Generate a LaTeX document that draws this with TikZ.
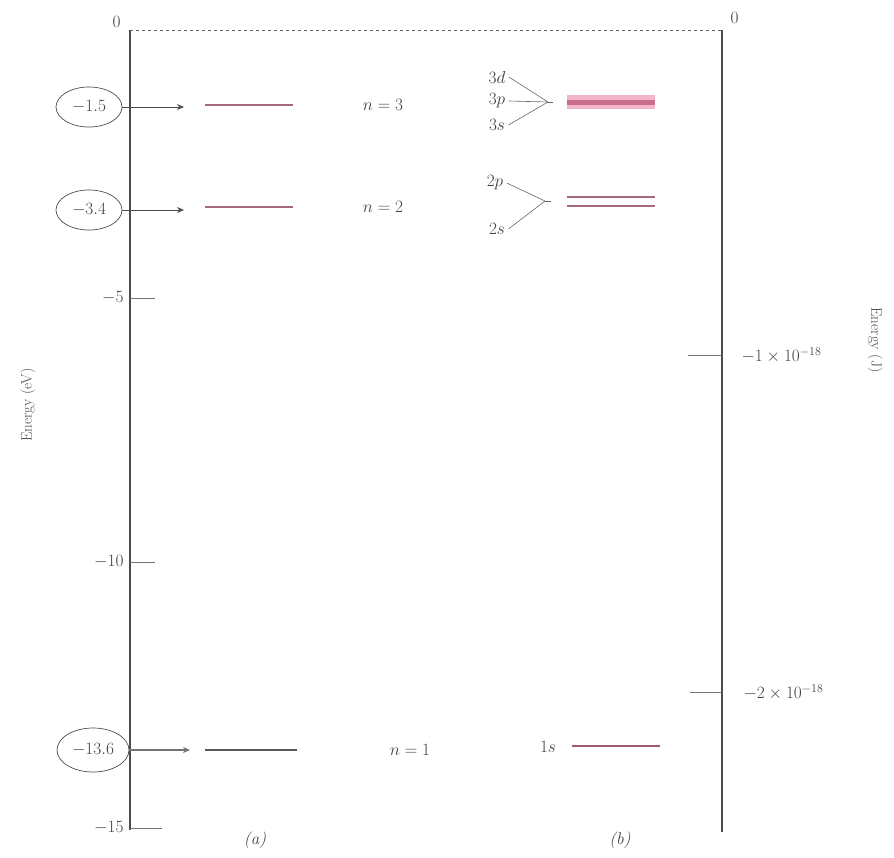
\documentclass[tikz,border=0pt]{standalone}
\usepackage{amsmath,amssymb}
\usepackage{tikz}
\usetikzlibrary{shapes.geometric,arrows.meta}

\definecolor{levelpink}{RGB}{200,110,140}
\definecolor{bandpink}{RGB}{242,182,202}
\definecolor{mauve}{RGB}{165,105,125}

\begin{document}
\begin{tikzpicture}[x=1pt,y=-1pt,
    axis/.style={draw=black!70, line width=1.1pt},
    tickmark/.style={draw=black!55, line width=0.8pt},
    levelline/.style={line width=1.8pt},
    ring/.style={ellipse, draw=black!70, line width=0.7pt, inner sep=0pt, minimum width=66pt, minimum height=40pt},
    pointer/.style={draw=black!70, line width=1pt, -{Stealth[length=7pt,width=6pt]}},
    fork/.style={draw=black!60, line width=0.6pt},
    lab/.style={font=\fontsize{17}{20}\selectfont, text=black!75},
    sidelab/.style={font=\fontsize{15}{18}\selectfont, text=black!70}]
    \useasboundingbox (0,0) rectangle (894,857);

    % axes
    \draw[axis] (130,30) -- (130,830);
    \draw[axis] (722,30) -- (722,832);
    \draw[dashed, black!60, line width=0.8pt] (130,30) -- (722,30);

    % left scale
    \node[lab, anchor=east] (z0) at (124,22) {$0$};
    \draw[tickmark] (130,298) -- (155,298);
    \node[lab, anchor=east] (t5) at (127,298) {$-5$};
    \draw[tickmark] (130,562) -- (155,562);
    \node[lab, anchor=east] (t10) at (127,562) {$-10$};
    \draw[tickmark] (130,828) -- (162,828);
    \node[lab, anchor=east] (t15) at (127,828) {$-15$};
    \node[sidelab, rotate=90] (eev) at (28,405) {Energy (eV)};

    % right scale
    \node[lab, anchor=west] (z1) at (727,18) {$0$};
    \draw[tickmark] (688,355) -- (722,355);
    \node[lab, anchor=west] (j1) at (738,355) {$-1\times10^{-18}$};
    \draw[tickmark] (690,692) -- (722,692);
    \node[lab, anchor=west] (j2) at (740,692) {$-2\times10^{-18}$};
    \node[sidelab, rotate=-90] (ej) at (875,340) {Energy (J)};

    % circled values
    \node[ring, lab] (c1) at (89,107) {$-1.5$};
    \node[ring, lab] (c2) at (89,210) {$-3.4$};
    \node[ring, lab, minimum width=72pt, minimum height=44pt] (c3) at (93,750) {$-13.6$};
    \coordinate (p1) at (184,107);
    \coordinate (p2) at (184,210);
    \coordinate (p3) at (190,750);
    \draw[pointer] (c1.east) -- (p1);
    \draw[pointer] (c2.east) -- (p2);
    \draw[pointer, line width=2pt, draw=black!55] (c3.east) -- (p3);

    % (a) levels
    \draw[levelline, mauve] (205,105) -- (293,105);
    \draw[levelline, mauve] (205,207) -- (293,207);
    \draw[levelline, black!65] (205,750) -- (297,750);
    \node[lab] (n3) at (383,105) {$n=3$};
    \node[lab] (n2) at (383,207) {$n=2$};
    \node[lab] (n1) at (410,750) {$n=1$};
    \node[lab] (pa) at (255,840) {\textit{(a)}};

    % (b) levels
    \draw[line width=14pt, bandpink] (567,102) -- (655,102);
    \draw[line width=5pt, levelpink] (567,102) -- (655,102);
    \draw[levelline, mauve] (567,197) -- (655,197);
    \draw[levelline, mauve] (567,206) -- (655,206);
    \draw[levelline, levelpink!80!black] (572,746) -- (660,746);

    \node[lab] (s3d) at (497,77) {$3d$};
    \node[lab] (s3p) at (497,101) {$3p$};
    \node[lab] (s3s) at (497,125) {$3s$};
    \node[lab] (s2p) at (495,183) {$2p$};
    \node[lab] (s2s) at (497,229) {$2s$};
    \node[lab] (s1s) at (548,747) {$1s$};
    \node[lab] (pb) at (620,840) {\textit{(b)}};

    \coordinate (m3) at (548,102);
    \coordinate (m2) at (545,201);
    \draw[fork] (s3d.east) -- (m3);
    \draw[fork] (s3p.east) -- (m3);
    \draw[fork] (s3s.east) -- (m3);
    \draw[fork] (m3) -- ++(5,0);
    \draw[fork] (s2p.east) -- (m2);
    \draw[fork] (s2s.east) -- (m2);
    \draw[fork] (m2) -- ++(6,0);
\end{tikzpicture}
\end{document}
